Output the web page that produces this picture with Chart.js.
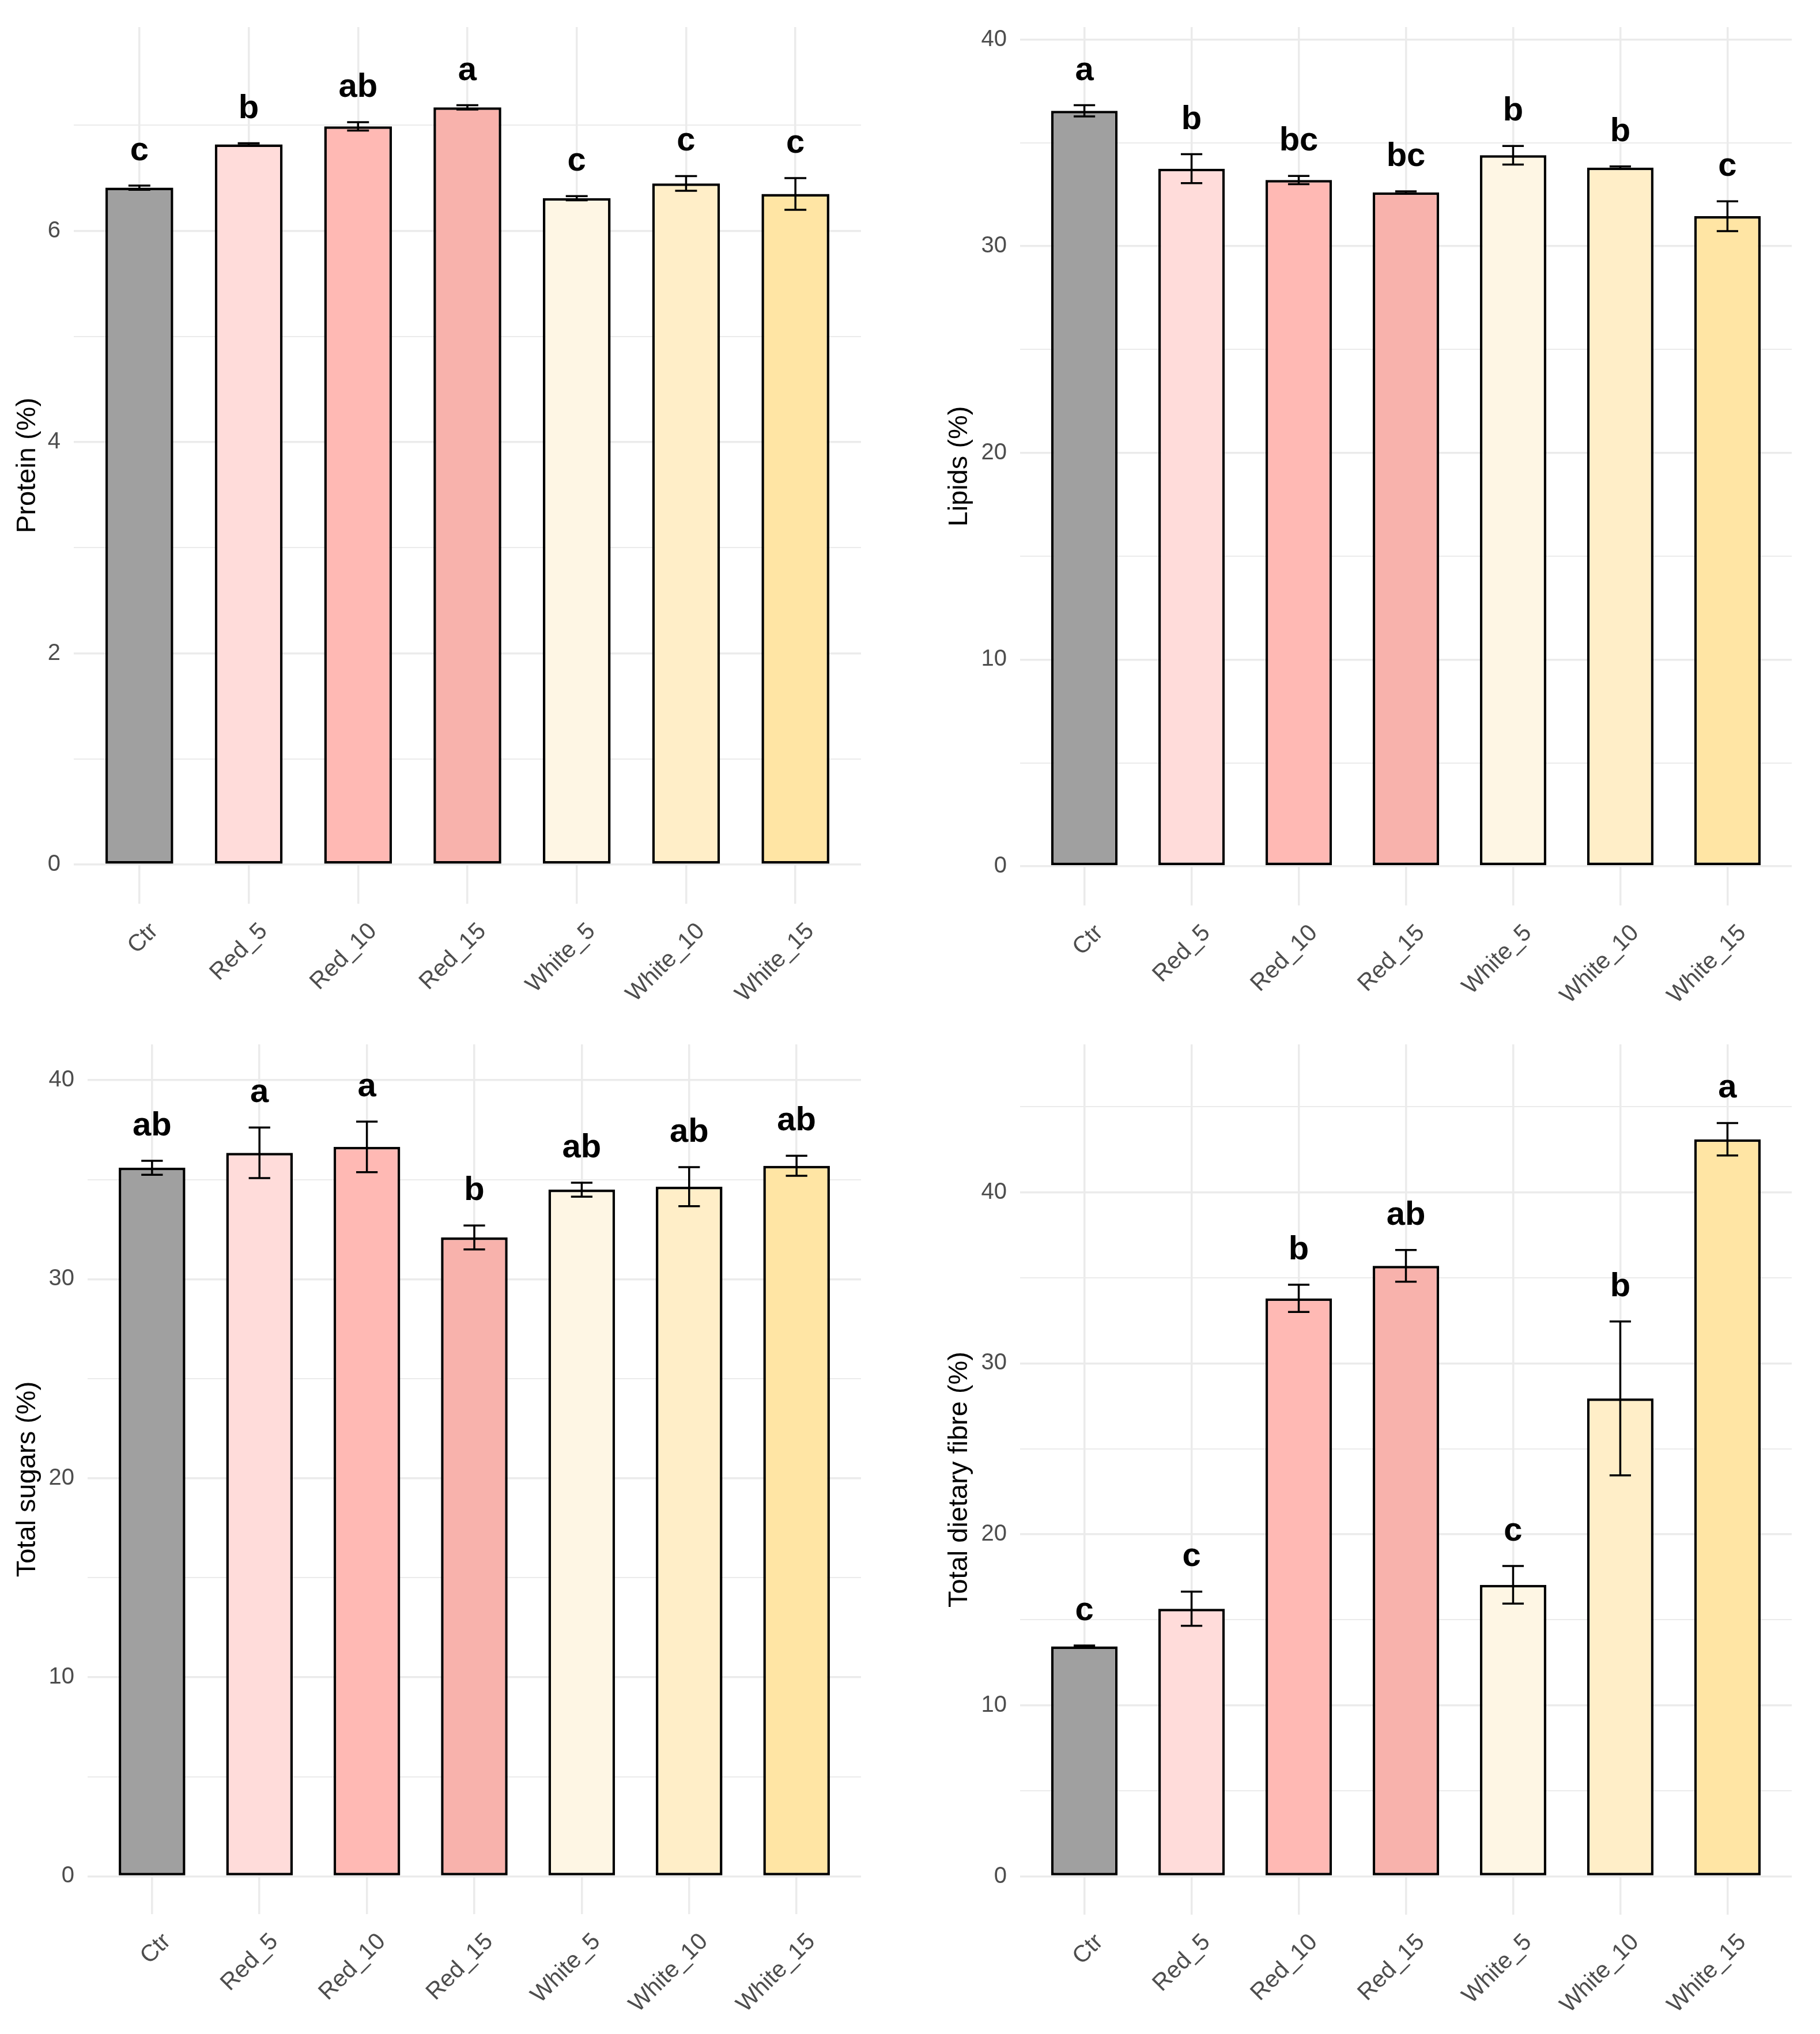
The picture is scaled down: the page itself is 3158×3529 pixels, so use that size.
<!DOCTYPE html>
<html>
<head>
<meta charset="utf-8">
<script src="https://cdn.jsdelivr.net/npm/chart.js@4/dist/chart.umd.min.js"></script>
<style>
  html, body { margin: 0; padding: 0; background: #fff; }
  .cell { position: absolute; width: 1579px; height: 1764px; }
</style>
</head>
<body>
<div class="cell" style="left:0;top:0"><canvas id="proteinChart"></canvas></div>
<div class="cell" style="left:1579px;top:0"><canvas id="lipidsChart"></canvas></div>
<div class="cell" style="left:0;top:1765px"><canvas id="sugarsChart"></canvas></div>
<div class="cell" style="left:1579px;top:1765px"><canvas id="fibreChart"></canvas></div>
<script>
const categories = ["Ctr", "Red_5", "Red_10", "Red_15", "White_5", "White_10", "White_15"];
const barColors = ["#A0A0A0", "#FFDCDA", "#FFB9B4", "#F8B2AC", "#FEF6E4", "#FFEEC8", "#FFE5A4"];

const proteinMean = [6.41, 6.82, 6.99, 7.17, 6.31, 6.45, 6.35];
const proteinSd = [0.02, 0.01, 0.04, 0.02, 0.02, 0.07, 0.15];
const proteinLetters = ["c", "b", "ab", "a", "c", "c", "c"];

const lipidsMean = [36.55, 33.75, 33.2, 32.6, 34.4, 33.8, 31.45];
const lipidsSd = [0.27, 0.7, 0.2, 0.05, 0.45, 0.06, 0.72];
const lipidsLetters = ["a", "b", "bc", "bc", "b", "b", "c"];

const sugarsMean = [35.6, 36.35, 36.65, 32.1, 34.5, 34.65, 35.7];
const sugarsSd = [0.35, 1.27, 1.27, 0.6, 0.35, 0.98, 0.5];
const sugarsLetters = ["ab", "a", "a", "b", "ab", "ab", "ab"];

const fibreMean = [13.45, 15.65, 33.8, 35.7, 17.05, 27.95, 43.1];
const fibreSd = [0.05, 1.0, 0.8, 0.93, 1.1, 4.5, 0.95];
const fibreLetters = ["c", "c", "b", "ab", "c", "b", "a"];

const FONT = "'Liberation Sans', Arial, sans-serif";
const GRID = "#EBEBEB";

// error bars + significance letters on top of each bar
const errorBars = {
  id: "errorBars",
  afterDatasetsDraw(chart, args, opts) {
    const ctx = chart.ctx;
    const xs = chart.scales.x;
    const ys = chart.scales.y;
    const half = xs.getPixelForValue(0.1) - xs.getPixelForValue(0);
    ctx.save();
    ctx.strokeStyle = "#000";
    ctx.lineWidth = 3.5;
    chart.getDatasetMeta(0).data.forEach((bar, i) => {
      const m = opts.mean[i];
      const s = opts.sd[i];
      const yTop = ys.getPixelForValue(m + s);
      const yBot = ys.getPixelForValue(m - s);
      ctx.beginPath();
      ctx.moveTo(bar.x, yTop);
      ctx.lineTo(bar.x, yBot);
      ctx.moveTo(bar.x - half, yTop);
      ctx.lineTo(bar.x + half, yTop);
      ctx.moveTo(bar.x - half, yBot);
      ctx.lineTo(bar.x + half, yBot);
      ctx.stroke();
      ctx.fillStyle = "#000";
      ctx.font = "bold 58px " + FONT;
      ctx.textAlign = "center";
      ctx.textBaseline = "alphabetic";
      ctx.fillText(opts.letters[i], bar.x, yTop - 44);
    });
    ctx.restore();
  },
};

function makeChart(id, title, mean, sd, letters, lay) {
  const ticksAll = [];
  for (let v = 0; v <= lay.gridMax + 1e-9; v += lay.minorStep) ticksAll.push(+v.toFixed(4));
  return new Chart(document.getElementById(id), {
    type: "bar",
    data: {
      datasets: [
        {
          data: mean.map((v, i) => ({ x: i, y: v })),
          backgroundColor: barColors,
          borderColor: "#000",
          borderWidth: 4.5,
          borderSkipped: false,
          barPercentage: 0.62,
          categoryPercentage: 1,
        },
      ],
    },
    options: {
      responsive: true,
      maintainAspectRatio: false,
      devicePixelRatio: 1,
      animation: false,
      layout: { padding: { top: lay.top, right: lay.right, left: lay.left, bottom: 0 } },
      plugins: {
        legend: { display: false },
        tooltip: { enabled: false },
        errorBars: { mean: mean, sd: sd, letters: letters },
      },
      scales: {
        x: {
          type: "linear",
          min: -0.6,
          max: 6.6,
          offset: false,
          afterBuildTicks: (axis) => {
            axis.ticks = categories.map((c, i) => ({ value: i }));
          },
          afterFit: (scale) => {
            scale.height = lay.xHeight;
          },
          grid: { color: GRID, lineWidth: 3.5, drawTicks: false, offset: false },
          border: { display: false },
          ticks: {
            autoSkip: false,
            minRotation: 45,
            maxRotation: 45,
            padding: 24,
            labelOffset: 26,
            color: "#4D4D4D",
            font: { family: FONT, size: 41 },
            callback: (v) => categories[v],
          },
        },
        y: {
          min: lay.min,
          max: lay.max,
          afterBuildTicks: (axis) => {
            axis.ticks = ticksAll.map((v) => ({ value: v }));
          },
          afterFit: (scale) => {
            scale.width = lay.yWidth;
          },
          grid: {
            color: GRID,
            drawTicks: false,
            lineWidth: (c) => (c.tick && Math.abs(c.tick.value % lay.majorStep) < 1e-6 ? 3.5 : 2),
          },
          border: { display: false },
          title: {
            display: true,
            text: title,
            color: "#000",
            font: { family: FONT, size: 47 },
            padding: { top: 20, bottom: 0 },
          },
          ticks: {
            autoSkip: false,
            padding: 23,
            color: "#4D4D4D",
            font: { family: FONT, size: 40 },
            callback: (v) => (Math.abs(v % lay.majorStep) < 1e-6 ? String(v) : ""),
          },
        },
      },
    },
    plugins: [errorBars],
  });
}

makeChart("proteinChart", "Protein (%)", proteinMean, proteinSd, proteinLetters, {
  min: -0.37, max: 7.93, majorStep: 2, minorStep: 1, gridMax: 7,
  top: 34, right: 85, left: 0, yWidth: 128, xHeight: 196,
});
makeChart("lipidsChart", "Lipids (%)", lipidsMean, lipidsSd, lipidsLetters, {
  min: -1.9, max: 40.6, majorStep: 10, minorStep: 5, gridMax: 40,
  top: 45, right: 49, left: 38, yWidth: 153, xHeight: 193,
});
makeChart("sugarsChart", "Total sugars (%)", sugarsMean, sugarsSd, sugarsLetters, {
  min: -1.9, max: 41.8, majorStep: 10, minorStep: 5, gridMax: 40,
  top: 31, right: 85, left: 0, yWidth: 152, xHeight: 208,
});
makeChart("fibreChart", "Total dietary fibre (%)", fibreMean, fibreSd, fibreLetters, {
  min: -2.24, max: 48.65, majorStep: 10, minorStep: 5, gridMax: 45,
  top: 32, right: 49, left: 38, yWidth: 153, xHeight: 207,
});
</script>
</body>
</html>
